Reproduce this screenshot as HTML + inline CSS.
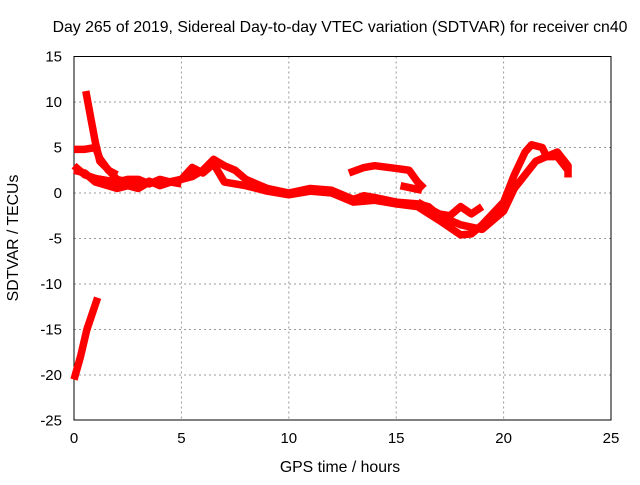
<!DOCTYPE html>
<html><head><meta charset="utf-8"><style>
body{margin:0;background:#fff;width:640px;height:480px;overflow:hidden}
text{font-family:"Liberation Sans",sans-serif;font-size:15px;fill:#000}
.big{font-size:15.8px}
</style></head><body>
<svg id="chart" width="640" height="480">
<text class="big" x="340" y="32" text-anchor="middle">Day 265 of 2019, Sidereal Day-to-day VTEC variation (SDTVAR) for receiver cn40</text>
<g id="grid"></g>
<rect x="74" y="56.5" width="537" height="363.5" fill="none" stroke="#000"/>
<g id="ticks"></g>
<g id="series"></g>
<text class="big" x="340" y="472" text-anchor="middle">GPS time / hours</text>
<text class="big" transform="translate(18,238) rotate(-90)" text-anchor="middle">SDTVAR / TECUs</text>
</svg>
<script>
const xTicks=[0,5,10,15,20,25];
const yTicks=[15,10,5,0,-5,-10,-15,-20,-25];
const trackA=[[0.55,11.2],[0.8,8],[1.0,5.5],[1.2,3.5],[1.5,2.8],[2,1.5],[2.5,1.2],[3,0.8],[3.5,1.3],[4,0.8],[4.5,1.2],[5,1]];
const trackB=[[0,4.8],[0.5,4.8],[1,5],[1.2,3.8],[1.6,2.5],[2,2]];
const trackC=[[0,3],[0.5,2],[1,1.6],[1.5,1.4],[2,1.2],[2.5,1.5],[3,1.5],[3.5,1.0],[4,1.5],[4.5,1.2],[5,1.5],[5.5,1.8],[6,2.5],[6.5,3.7],[7,3],[7.5,2.5],[8,1.5],[8.5,1],[9,0.5],[10,0],[11,0.5],[12,0.3],[12.5,-0.2],[13,-0.7],[13.5,-0.3],[14,-0.5],[15,-1],[16,-1.2],[16.5,-1.5],[17,-2.5],[18,-3.5],[19,-4],[20,-2],[20.5,0.5],[21,2],[21.5,3.5],[22,4],[22.5,4],[23,2.5]];
const trackD=[[0,2.5],[0.5,2.2],[1,1.2],[2,0.5],[2.5,0.8],[3,0.5],[3.5,1.2],[4,1],[5,1.5],[5.5,2.8],[6,2.2],[6.5,3.2],[7,1.2],[8,0.8],[9,0.2],[10,-0.2],[11,0.2],[12,0],[13,-1],[14,-0.8],[15,-1.2],[16,-1.5],[17,-3],[18,-4.6],[18.5,-4.5],[19,-3.5],[20,-1],[20.5,2],[21,4.5],[21.3,5.3],[21.8,5],[22,4],[22.5,4.5],[23,3],[23,1.7]];
const trackE=[[12.8,2.2],[13.5,2.8],[14,3],[15,2.7],[15.6,2.5],[16,1.2],[16.3,0.5]];
const trackF=[[15.2,0.8],[15.8,0.5],[16.2,0.3]];
const trackG=[[16,-1],[17,-2.3],[17.5,-2.5],[18,-1.5],[18.5,-2.3],[19,-1.5]];
const trackH=[[0,-20.5],[0.3,-18],[0.6,-15],[1.1,-11.5]];
const tracks=[trackA,trackB,trackC,trackD,trackE,trackF,trackG,trackH];
const X=v=>74+v*537/25, Y=v=>193-v*9.1;
const NS='http://www.w3.org/2000/svg';
const grid=document.getElementById('grid'),ticks=document.getElementById('ticks'),ser=document.getElementById('series');
function mk(tag,attrs,parent){const e=document.createElementNS(NS,tag);for(const k in attrs)e.setAttribute(k,attrs[k]);parent.appendChild(e);return e;}
xTicks.forEach(t=>{
 const x=X(t);
 if(t>0&&t<25){const g=mk('line',{x1:x,x2:x,y1:56.5,y2:420,stroke:'#999','stroke-dasharray':'2,3'},grid);
 
 }
 const l=mk('text',{x:x,y:443,'text-anchor':'middle'},ticks);l.textContent=t;
 
 
});
yTicks.forEach(t=>{
 const y=Y(t);
 if(t<15&&t>-25){const g=mk('line',{x1:74,x2:611,y1:y,y2:y,stroke:'#999','stroke-dasharray':'2,3'},grid);
 
 }
 const l=mk('text',{x:62,y:y+5,'text-anchor':'end'},ticks);l.textContent=t;
 
 
});
tracks.forEach(tr=>{
 const p=mk('polyline',{points:tr.map(d=>X(d[0])+','+Y(d[1])).join(' '),fill:'none',stroke:'#f00','stroke-width':7.5,'stroke-linejoin':'round'},ser);
 
 
});
</script>
</body></html>
